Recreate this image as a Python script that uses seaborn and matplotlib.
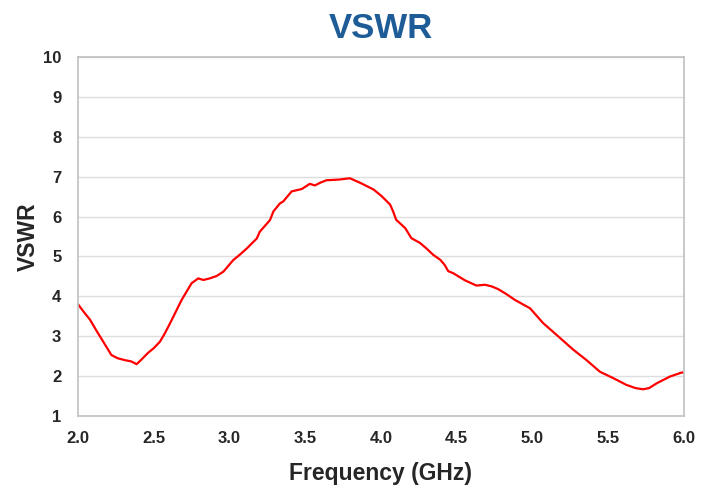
import pandas as pd
import matplotlib.pyplot as plt
import seaborn as sns

# values
freq = [2.00, 2.04, 2.08, 2.12, 2.167, 2.22, 2.26, 2.31, 2.35, 2.387, 2.42, 2.464,
        2.50, 2.54, 2.57, 2.607, 2.684, 2.75, 2.794, 2.827, 2.87, 2.915, 2.96,
        3.025, 3.07, 3.114, 3.18, 3.20, 3.267, 3.29, 3.333, 3.355, 3.41, 3.477,
        3.53, 3.564, 3.60, 3.64, 3.69, 3.73, 3.795, 3.83, 3.86, 3.95, 4.005,
        4.06, 4.08, 4.10, 4.16, 4.20, 4.257, 4.30, 4.345, 4.39, 4.42, 4.444,
        4.477, 4.52, 4.555, 4.63, 4.687, 4.73, 4.774, 4.83, 4.884, 4.984, 5.07,
        5.16, 5.27, 5.357, 5.445, 5.533, 5.62, 5.68, 5.73, 5.77, 5.82, 5.908,
        5.985, 6.00]
vswr = [3.80, 3.60, 3.41, 3.15, 2.86, 2.53, 2.45, 2.40, 2.37, 2.30, 2.42, 2.59,
        2.70, 2.86, 3.05, 3.32, 3.91, 4.33, 4.45, 4.41, 4.45, 4.51, 4.62,
        4.91, 5.05, 5.20, 5.45, 5.62, 5.91, 6.13, 6.33, 6.38, 6.63, 6.69,
        6.82, 6.78, 6.85, 6.91, 6.92, 6.93, 6.96, 6.90, 6.85, 6.68, 6.51,
        6.30, 6.13, 5.92, 5.71, 5.46, 5.34, 5.20, 5.04, 4.92, 4.79, 4.63,
        4.58, 4.48, 4.40, 4.27, 4.29, 4.25, 4.18, 4.05, 3.91, 3.70, 3.33,
        3.03, 2.66, 2.40, 2.11, 1.95, 1.78, 1.70, 1.67, 1.70, 1.82, 1.99,
        2.09, 2.09]

df = pd.DataFrame({'freq': freq, 'vswr': vswr})

sns.set_style('white')
plt.rcParams['font.family'] = ['Liberation Sans', 'DejaVu Sans']

fig = plt.figure(figsize=(7.01, 4.90), dpi=100)
ax = fig.add_axes([0.1113, 0.151, 0.8644, 0.7327])

sns.lineplot(data=df, x='freq', y='vswr', color='#FF0000', linewidth=1.6, ax=ax)

ax.set_xlim(2.0, 6.0)
ax.set_ylim(1, 10)
ax.set_xticks([2.0, 2.5, 3.0, 3.5, 4.0, 4.5, 5.0, 5.5, 6.0])
ax.set_xticklabels(['2.0', '2.5', '3.0', '3.5', '4.0', '4.5', '5.0', '5.5', '6.0'])
ax.set_yticks(range(1, 11))
ax.yaxis.grid(True, color='#DDDDDD', linewidth=1.0)
ax.xaxis.grid(False)

for side in ['left', 'bottom', 'right', 'top']:
    ax.spines[side].set_color('#C0C0C0')
    ax.spines[side].set_linewidth(1.2)

ax.tick_params(axis='both', direction='out', length=4, width=1, color='#C0C0C0',
               labelsize=12)
ax.tick_params(axis='x', pad=7)
ax.tick_params(axis='y', pad=8)
for lab in ax.get_xticklabels() + ax.get_yticklabels():
    lab.set_fontweight('bold')

ax.set_xlabel('Frequency (GHz)', fontsize=16.5, fontweight='bold', labelpad=11)
ax.set_ylabel('VSWR', fontsize=16.5, fontweight='bold', labelpad=2)
ax.set_title('VSWR', fontsize=25, fontweight='bold', color='#1D5C97', pad=14)

fig.savefig('out.png', dpi=100)
